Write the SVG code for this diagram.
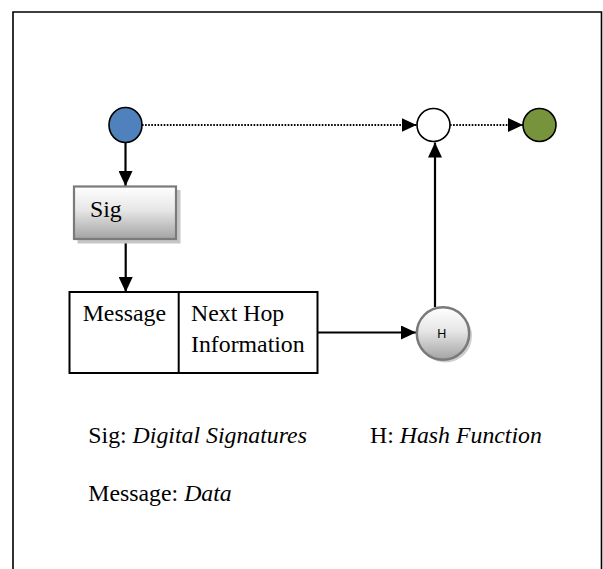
<svg xmlns="http://www.w3.org/2000/svg" width="603" height="569" viewBox="0 0 603 569">
  <defs>
    <style>
      .txt { font-family: "Liberation Serif", "Times New Roman", serif; font-size: 23.8px; fill: #000; }
      .it { font-style: italic; }
      .conn { stroke: #000; stroke-width: 2.2; fill: none; }
      .dot { stroke: #000; stroke-width: 2.2; stroke-dasharray: 1.6 1.5; fill: none; }
      .node { stroke: #000; stroke-width: 1.6; }
    </style>
    <linearGradient id="greyFade" x1="0" y1="0" x2="0" y2="1">
      <stop offset="0" stop-color="#ffffff"/>
      <stop offset="0.45" stop-color="#e6e6e6"/>
      <stop offset="1" stop-color="#a3a3a3"/>
    </linearGradient>
    <marker id="arrow" viewBox="0 0 15 14" refX="15" refY="7" markerWidth="15" markerHeight="14" markerUnits="userSpaceOnUse" orient="auto">
      <path d="M0,0 L15,7 L0,14 z" fill="#000"/>
    </marker>
  </defs>

  <!-- outer frame -->
  <path d="M13,569 V12 H601.5 V569" fill="none" stroke="#000" stroke-width="1.6"/>

  <!-- connectors -->
  <g id="connectors">
    <line class="dot" x1="142" y1="125" x2="416.5" y2="125" marker-end="url(#arrow)"/>
    <line class="dot" x1="450" y1="125" x2="523" y2="125" marker-end="url(#arrow)"/>
    <line class="conn" x1="125.5" y1="143" x2="125.5" y2="186" marker-end="url(#arrow)"/>
    <line class="conn" x1="125.7" y1="240" x2="125.7" y2="292" marker-end="url(#arrow)"/>
    <line class="conn" x1="317" y1="332.5" x2="416" y2="332.5" marker-end="url(#arrow)"/>
    <line class="conn" x1="435" y1="307" x2="435" y2="142.5" marker-end="url(#arrow)"/>
  </g>

  <!-- source node -->
  <g id="node-source">
    <ellipse class="node" cx="125.5" cy="125" rx="16.5" ry="17.5" fill="#4f81bd"/>
  </g>

  <!-- signature block -->
  <g id="node-sig">
    <rect x="77.5" y="190" width="103" height="53.5" fill="#c6c6c6"/>
    <rect x="74" y="186.5" width="102" height="52.5" fill="url(#greyFade)" stroke="#7a7a7a" stroke-width="2.2"/>
    <text class="txt" x="90" y="216.7">Sig</text>
  </g>

  <!-- message packet -->
  <g id="node-packet">
    <rect x="69.5" y="292" width="248" height="81" fill="#fff" stroke="#000" stroke-width="2"/>
    <line x1="178.7" y1="292" x2="178.7" y2="373" stroke="#000" stroke-width="2"/>
    <text class="txt" x="82.7" y="320.7">Message</text>
    <text class="txt" x="191" y="320.7">Next Hop</text>
    <text class="txt" x="191" y="351.7">Information</text>
  </g>

  <!-- hash function -->
  <g id="node-hash">
    <circle cx="445.5" cy="336" r="26.5" fill="#cfcfcf"/>
    <circle cx="443" cy="333.5" r="26.2" fill="url(#greyFade)" stroke="#7a7a7a" stroke-width="2.5"/>
    <text x="441.7" y="338" text-anchor="middle" font-family="Liberation Sans, Arial, sans-serif" font-size="12.5" fill="#000">H</text>
  </g>

  <!-- combining node -->
  <g id="node-combine">
    <circle class="node" cx="433.5" cy="125" r="16.5" fill="#fff"/>
  </g>

  <!-- destination node -->
  <g id="node-dest">
    <circle class="node" cx="539.5" cy="125" r="16.5" fill="#77933c"/>
  </g>

  <!-- legend -->
  <g id="legend">
    <text class="txt" x="88.3" y="442.7">Sig: <tspan class="it">Digital Signatures</tspan></text>
    <text class="txt" x="370" y="442.7">H: <tspan class="it">Hash Function</tspan></text>
    <text class="txt" x="88.3" y="500.7">Message: <tspan class="it">Data</tspan></text>
  </g>
</svg>
